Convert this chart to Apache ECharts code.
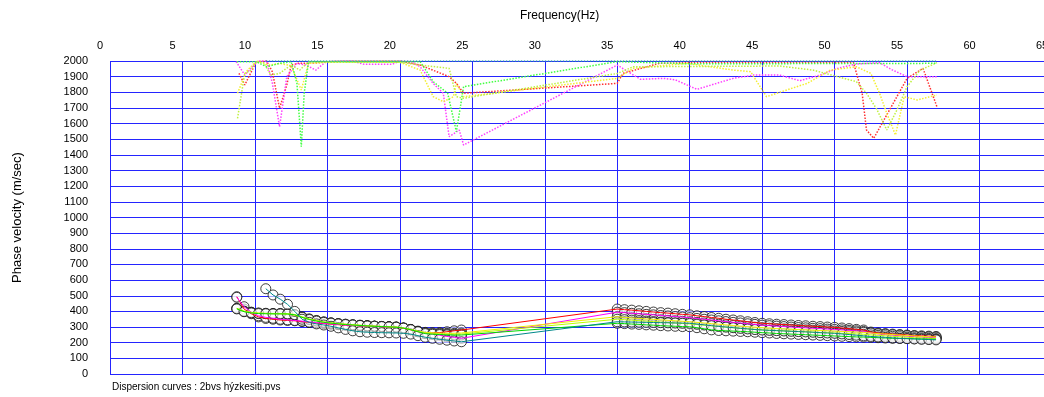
<!DOCTYPE html>
<html>
<head>
<meta charset="utf-8">
<script src="https://cdn.jsdelivr.net/npm/echarts@6/dist/echarts.min.js"></script>
<style>
  html, body { margin: 0; padding: 0; background: #fff; overflow: hidden; }
  /* the frame's 65 Hz edge runs a little past the window's right border */
  #chart { width: 1064px; height: 397px; }
</style>
</head>
<body>
<div id="chart"></div>
<script>
// Frequencies (Hz) of the picked dispersion points: low band, then high band
const freq = [8.75, 9.25, 9.75, 10.25, 10.75, 11.25, 11.75, 12.25, 12.75, 13.25, 13.75, 14.25, 14.75, 15.25, 15.75, 16.25,
  16.75, 17.25, 17.75, 18.25, 18.75, 19.25, 19.75, 20.25, 20.75, 21.25, 21.75, 22.25, 22.75, 23.25, 23.75, 24.25,
  35.0, 35.5, 36.0, 36.5, 37.0, 37.5, 38.0, 38.5, 39.0, 39.5, 40.0, 40.5, 41.0, 41.5, 42.0, 42.5, 43.0, 43.5, 44.0,
  44.5, 45.0, 45.5, 46.0, 46.5, 47.0, 47.5, 48.0, 48.5, 49.0, 49.5, 50.0, 50.5, 51.0, 51.5, 52.0, 52.5, 53.0, 53.5,
  54.0, 54.5, 55.0, 55.5, 56.0, 56.5, 57.0];

// Picked phase velocities (m/sec), one curve per record
const velRed = [494, 415, 385, 365, 355, 350, 345, 342, 340, 335, 330, 325, 322, 318, 315, 312,
  310, 308, 306, 304, 302, 300, 298, 292, 282, 270, 262, 262, 265, 270, 276, 281,
  415, 411, 408, 404, 400, 396, 392, 389, 385, 381, 378, 372, 367, 361, 356, 350, 345, 340, 334,
  329, 324, 321, 318, 316, 313, 310, 308, 305, 303, 300, 298, 294, 290, 285, 281, 268, 262, 258,
  255, 252, 249, 246, 244, 242, 240];
const velMagenta = [490, 430, 395, 372, 362, 356, 350, 346, 342, 338, 333, 328, 324, 320, 316, 313,
  311, 309, 307, 305, 303, 301, 299, 293, 284, 272, 262, 255, 248, 240, 234, 228,
  395, 392, 388, 385, 381, 378, 374, 371, 367, 364, 360, 355, 350, 345, 340, 335, 330, 326, 321,
  317, 312, 309, 306, 303, 300, 297, 295, 292, 290, 287, 285, 282, 279, 276, 272, 262, 256, 252,
  248, 245, 242, 239, 236, 234, 232];
const velYellow = [418, 400, 392, 388, 386, 385, 384, 383, 375, 362, 350, 340, 332, 326, 322, 318,
  314, 311, 308, 306, 304, 302, 300, 294, 285, 274, 266, 263, 261, 260, 260, 262,
  366, 362, 358, 355, 352, 349, 346, 343, 340, 337, 334, 330, 326, 322, 318, 314, 310, 306, 302,
  299, 296, 293, 290, 288, 286, 284, 282, 280, 278, 276, 274, 272, 270, 268, 266, 262, 258, 255,
  252, 249, 246, 243, 240, 238, 236];
const velLime = [420, 402, 394, 390, 388, 387, 387, 386, 380, 366, 352, 342, 333, 327, 322, 318,
  315, 312, 309, 306, 304, 302, 300, 294, 284, 272, 262, 258, 256, 255, 254, 255,
  350, 347, 344, 341, 338, 335, 332, 329, 326, 323, 320, 316, 312, 308, 304, 300, 296, 292, 289,
  286, 283, 280, 278, 276, 274, 272, 270, 268, 266, 264, 262, 260, 258, 256, 254, 250, 247, 244,
  241, 238, 235, 232, 230, 228, 226];
const velGreen = [416, 398, 390, 386, 385, 384, 384, 383, 378, 362, 348, 338, 330, 325, 320, 316,
  313, 310, 307, 305, 303, 301, 299, 293, 283, 270, 258, 254, 252, 250, 249, 249,
  324, 322, 319, 317, 314, 312, 309, 307, 305, 303, 302, 296, 289, 282, 278, 276, 274, 272, 270,
  267, 264, 262, 259, 257, 255, 253, 251, 249, 247, 245, 243, 241, 239, 237, 236, 234, 232, 230,
  228, 227, 226, 225, 224, 223, 222];
const velTeal = [null, null, null, null, 545, 505, 478, 445, 400, 350, 330, 320, 313, 305, 295, 285,
  276, 270, 267, 265, 264, 263, 262, 260, 255, 245, 235, 228, 222, 216, 211, 206,
  334, 333, 332, 331, 330, 329, 328, 327, 326, 325, 324, 319, 314, 309, 304, 300, 296, 292, 288,
  284, 281, 279, 277, 275, 273, 271, 269, 267, 264, 262, 260, 256, 252, 248, 244, 240, 237, 234,
  231, 228, 226, 224, 222, 220, 218];

// Upper-bound curves [frequency, velocity], drawn dotted
const upRed = [[8.9, 1921], [9.3, 1847], [10.1, 1996], [10.8, 2000], [11.2, 1932], [11.7, 1698], [12.2, 1847],
  [12.5, 1974], [13, 1985], [14, 1985], [15, 1995], [16, 2000], [20, 2000], [21.4, 1974], [23.4, 1900],
  [23.9, 1857], [24.4, 1794], [35.0, 1857], [35.4, 1921], [37.9, 1985], [40, 1990], [45, 1990], [51.3, 1990],
  [51.9, 1794], [52.2, 1559], [52.7, 1506], [55, 1889], [56.1, 1953], [57.06, 1708]];
const upMagenta = [[8.7, 1996], [9.3, 1910], [10.2, 2000], [10.8, 2000], [11.2, 1860], [11.7, 1580], [12.2, 1900],
  [12.9, 1985], [13.5, 1975], [14.2, 1942], [14.9, 1995], [16.7, 2000], [17.5, 1980], [19.5, 1980], [20, 2000],
  [20.8, 1995], [21.4, 1963], [22.3, 1857], [23, 1793], [23.4, 1516], [24.1, 1559], [24.4, 1463], [35.0, 1974],
  [36.6, 1883], [38.2, 1889], [39, 1880], [40.5, 1819], [43, 1889], [44.4, 1910], [46.2, 1910], [47.6, 1874],
  [49, 1910], [50.2, 1953], [51.5, 1981], [53.1, 1989], [54, 1942], [55, 1900], [57.06, 1900]];
const upYellow = [[8.8, 1794], [9.4, 1932], [10.1, 2000], [11, 1974], [11.7, 1985], [12.5, 1970], [13.2, 1815],
  [13.7, 1985], [15, 1992], [20, 1992], [21.4, 1942], [22.3, 1772], [23, 1740], [23.7, 1772], [23.9, 1857],
  [24.4, 1772], [35.0, 1889], [36.1, 1953], [39.8, 1985], [43, 1942], [44.2, 1932], [45.3, 1772], [46.7, 1815],
  [48.1, 1857], [49.7, 1942], [51.5, 1963], [52.5, 1921], [53.1, 1794], [53.6, 1666], [54.2, 1527], [54.8, 1772],
  [55.7, 1751], [57.06, 1783]];
const upLime = [[8.8, 1634], [9.3, 1921], [9.7, 1940], [10.1, 1996], [10.6, 1990], [11.1, 1910], [11.7, 1921],
  [12.5, 1974], [13.1, 1942], [13.7, 1996], [20, 1992], [21.4, 1974], [23.4, 1953], [23.9, 1772], [24.4, 1762],
  [35.0, 1920], [36.1, 1963], [46.2, 1968], [48.5, 1942], [50.2, 1900], [51.5, 1868], [52.2, 1794], [52.9, 1693],
  [53.6, 1559], [54.3, 1687], [55, 1836], [55.9, 1942], [57.06, 1989]];
const upGreen = [[8.75, 1995], [10.1, 1996], [10.8, 1963], [11.7, 1985], [12.5, 1996], [12.9, 1857], [13.2, 1453],
  [13.4, 1794], [13.7, 1996], [21.4, 1996], [22.3, 1868], [23.3, 1794], [23.9, 1548], [24.4, 1836], [35.0, 1996],
  [40, 1982], [57.06, 1985]];
const upTeal = [[10.75, 2000], [57.0, 2000]];

// Axis tick settings
const freqMin = 0, freqMax = 65, freqStep = 5;
const velMin = 0, velMax = 2000, velStep = 100;

const FONT = 'Liberation Sans, Arial, sans-serif';
const GRID_BLUE = '#2424ff';

const curves = [
  { vel: velRed, up: upRed, line: '#ff0000', dot: '#ff3030' },
  { vel: velMagenta, up: upMagenta, line: '#ff00ff', dot: '#ff40ff' },
  { vel: velYellow, up: upYellow, line: '#f0f000', dot: '#f4ee30' },
  { vel: velLime, up: upLime, line: '#b8ff00', dot: '#bff040' },
  { vel: velGreen, up: upGreen, line: '#00d800', dot: '#40ff40' },
  { vel: velTeal, up: upTeal, line: '#00898a', dot: '#2a9aa6' }
];

function pairs(vals) {
  const out = [];
  vals.forEach((v, i) => { out.push([freq[i], v]); });
  return out;
}

const series = [];
// circles sit underneath the connecting lines
curves.forEach(c => {
  series.push({
    type: 'scatter',
    data: pairs(c.vel).filter(p => p[1] !== null),
    symbol: 'circle',
    symbolSize: 10,
    itemStyle: { color: 'rgba(255,255,255,0.75)', borderColor: '#111', borderWidth: 1 },
    z: 2,
    silent: true
  });
});
curves.forEach(c => {
  series.push({
    type: 'line',
    data: pairs(c.vel),
    showSymbol: false,
    connectNulls: false,
    lineStyle: { color: c.line, width: 1 },
    z: 3,
    silent: true
  });
  series.push({
    type: 'line',
    data: c.up,
    showSymbol: false,
    lineStyle: { color: c.dot, width: 1.5, type: [1.5, 1.5] },
    z: 3,
    silent: true
  });
});

const chart = echarts.init(document.getElementById('chart'), null, { renderer: 'canvas' });
chart.setOption({
  animation: false,
  backgroundColor: '#ffffff',
  grid: { left: 110, top: 61, width: 942, height: 313, containLabel: false },
  xAxis: {
    type: 'value',
    position: 'top',
    min: freqMin, max: freqMax, interval: freqStep,
    axisLine: { show: false },
    axisTick: { show: false },
    axisLabel: { color: '#000', fontFamily: FONT, fontSize: 11, margin: 10, padding: [0, 20, 0, 0],
      formatter: v => String(v) },
    splitLine: { show: true, lineStyle: { color: GRID_BLUE, width: 1 } }
  },
  yAxis: {
    type: 'value',
    min: velMin, max: velMax, interval: velStep,
    name: 'Phase velocity (m/sec)',
    nameLocation: 'middle',
    nameGap: 86,
    nameTextStyle: { color: '#000', fontFamily: FONT, fontSize: 13 },
    axisLine: { show: false },
    axisTick: { show: false },
    axisLabel: { color: '#000', fontFamily: FONT, fontSize: 11, margin: 22, formatter: v => String(v) },
    splitLine: { show: true, lineStyle: { color: GRID_BLUE, width: 1 } }
  },
  graphic: [
    { type: 'text', left: 559 - 39, top: 10,
      style: { text: 'Frequency(Hz)', fill: '#000', font: '12px ' + FONT } },
    { type: 'text', left: 112, top: 382,
      style: { text: 'Dispersion curves : 2bvs hýzkesiti.pvs', fill: '#000', font: '10px ' + FONT } }
  ],
  series: series
});
</script>
</body>
</html>
